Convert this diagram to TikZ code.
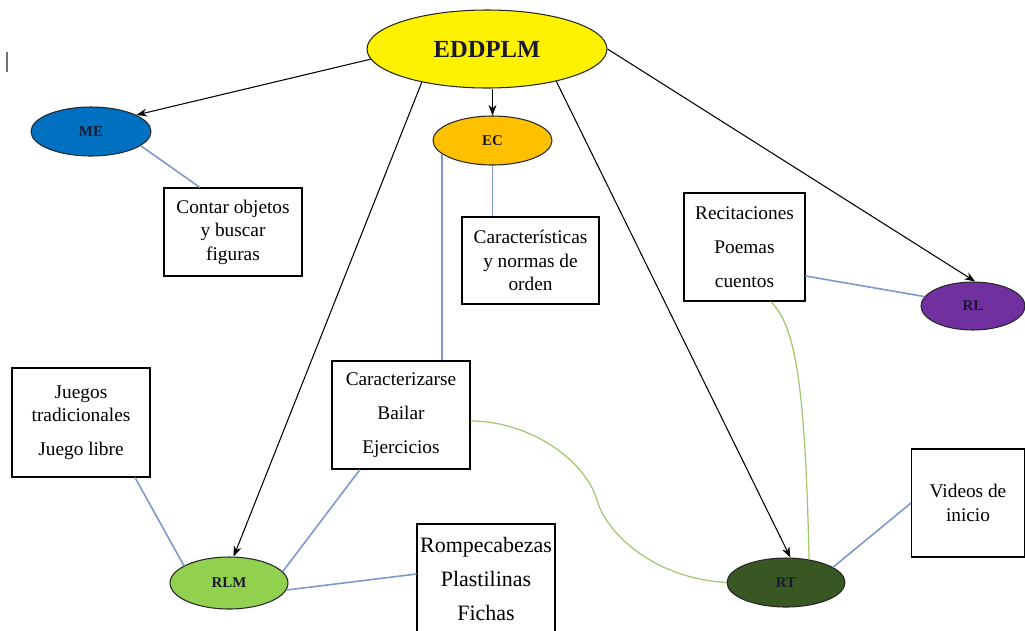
\documentclass[tikz,border=0pt]{standalone}
\usepackage{fontspec}
\setmainfont{Liberation Serif}
\usepackage{tikz}
\usetikzlibrary{calc,shapes.geometric,arrows.meta}
\definecolor{meblue}{RGB}{0,112,192}
\definecolor{ecorange}{RGB}{255,192,0}
\definecolor{rlpurple}{RGB}{112,48,160}
\definecolor{rlmgreen}{RGB}{146,208,80}
\definecolor{rtgreen}{RGB}{56,87,35}
\definecolor{linkblue}{RGB}{125,152,205}
\definecolor{linkgreen}{RGB}{160,200,110}
\definecolor{labelink}{RGB}{25,25,45}

\begin{document}
\begin{tikzpicture}[x=0.02cm,y=-0.02cm]
        \tikzset{
            topic/.style={draw=black!85, ellipse, inner sep=0pt, line width=0.6pt, font=\fontsize{8.5}{10}\selectfont\bfseries, text=labelink},
            actbox/.style={draw, line width=0.6pt, fill=white, align=center, inner sep=0pt, font=\fontsize{11}{13.4}\selectfont},
            actlist/.style={actbox, font=\fontsize{11}{19.3}\selectfont},
            arr/.style={-{Stealth[length=6pt,width=4.5pt]}, line width=0.6pt},
            blink/.style={linkblue, line width=0.9pt},
            glink/.style={linkgreen, line width=0.7pt}
        }
        \useasboundingbox (0,0) rectangle (1025,630);
        \draw[black!55, line width=0.9pt] (7,52) -- (7,72);
        % ellipses
        \node[topic, fill=yellow, minimum width=4.8cm, minimum height=1.56cm, font=\fontsize{14}{16}\selectfont\bfseries] (EDDPLM) at (487,49) {EDDPLM};
        \node[topic, fill=meblue, minimum width=2.4cm, minimum height=0.98cm] (ME) at (91,131.5) {ME};
        \node[topic, fill=ecorange, minimum width=2.38cm, minimum height=0.98cm] (EC) at (492.5,140.5) {EC};
        \node[topic, fill=rlpurple, minimum width=2.08cm, minimum height=0.96cm] (RL) at (973,306) {RL};
        \node[topic, fill=rlmgreen, minimum width=2.36cm, minimum height=1.04cm] (RLM) at (229,583) {RLM};
        \node[topic, fill=rtgreen, minimum width=2.36cm, minimum height=0.98cm] (RT) at (786,582.5) {RT};
        % boxes
        \node[actbox, minimum width=2.76cm, minimum height=1.76cm] (contar) at (233,232) {Contar objetos\\y buscar\\figuras};
        \node[actbox, minimum width=2.74cm, minimum height=1.74cm] (normas) at (530.5,260.5) {Características\\y normas de\\orden};
        \node[actlist, minimum width=2.42cm, minimum height=2.16cm] (recita) at (744.5,247) {Recitaciones\\Poemas\\cuentos};
        \node[actbox, minimum width=2.76cm, minimum height=2.18cm] (juegos) at (81,422.5) {Juegos\\tradicionales\\[5.9pt]Juego libre};
        \node[actlist, minimum width=2.76cm, minimum height=2.16cm] (bailar) at (401,415) {Caracterizarse\\Bailar\\Ejercicios};
        \node[actlist, font=\fontsize{12.5}{19.3}\selectfont, minimum width=2.76cm, minimum height=2.2cm] (fichas) at (486,579) {Rompecabezas\\Plastilinas\\Fichas};
        \node[actbox, minimum width=2.26cm, minimum height=2.16cm] (videos) at (968,503) {Videos de\\inicio};
        % arrows
        \draw[arr] (EDDPLM.185) -- (ME.20);
        \draw[arr] (EC.north |- EDDPLM.south) -- (EC.north);
        \draw[arr] (EDDPLM.207) -- (RLM.80);
        \draw[arr] (EDDPLM.335) -- (RT.80);
        \draw[arr] (EDDPLM.east) -- (RL.85);
        % links
        \draw[blink] (ME.344) -- ($(contar.north)+(-33,0)$);
        \draw[blink] (EC.south) -- (EC.south |- normas.north);
        \draw[blink] (EC.195) -- (EC.195 |- bailar.north);
        \draw[blink] ($(recita.east)+(0,29)$) -- (RL.169);
        \draw[blink] ($(juegos.south)+(54,0)$) -- (RLM.159);
        \draw[blink] ($(bailar.south)+(-41,0)$) -- (RLM.12);
        \draw[blink] (RLM.353) -- ($(fichas.west)+(0,-5)$);
        \draw[blink] (RT.18) -- (videos.west);
        \draw[glink] ($(bailar.east)+(0,6)$) .. controls (530,421) and (585,460) .. (597,500) .. controls (605,530) and (650,578) .. (RT.west);
        \draw[glink] ($(recita.south)+(26,0)$) .. controls (795,325) and (805,380) .. (RT.45);
\end{tikzpicture}
\end{document}
